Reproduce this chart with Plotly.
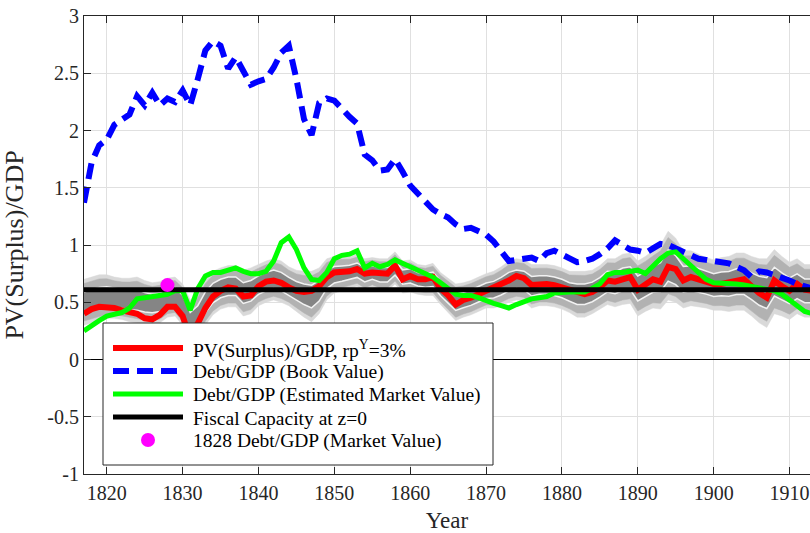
import plotly.graph_objects as go

years = list(range(1817, 1914))

book_debt = [1.37, 1.72, 1.87, 1.92, 2.05, 2.10, 2.14, 2.30, 2.22, 2.33,
             2.22, 2.28, 2.25, 2.35, 2.22, 2.45, 2.70, 2.78, 2.74, 2.54,
             2.64, 2.52, 2.40, 2.43, 2.45, 2.55, 2.68, 2.74, 2.45, 2.10,
             1.96, 2.24, 2.28, 2.26, 2.18, 2.12, 2.06, 1.79, 1.74, 1.65,
             1.66, 1.75, 1.64, 1.52, 1.45, 1.37, 1.31, 1.27, 1.24, 1.18,
             1.14, 1.15, 1.12, 1.09, 1.03, 0.95, 0.86, 0.87, 0.88, 0.89,
             0.86, 0.93, 0.95, 0.92, 0.89, 0.85, 0.86, 0.88, 0.92, 0.97,
             1.04, 1.00, 0.96, 0.95, 0.93, 0.97, 1.01, 1.00, 0.97, 0.93,
             0.90, 0.88, 0.87, 0.86, 0.85, 0.84, 0.81, 0.78, 0.72, 0.77,
             0.76, 0.74, 0.71, 0.69, 0.66, 0.64, 0.62]

pv_surplus = [0.40, 0.44, 0.46, 0.46, 0.45, 0.43, 0.41, 0.40, 0.36, 0.35,
              0.39, 0.46, 0.46, 0.38, 0.18, 0.32, 0.45, 0.55, 0.60, 0.63,
              0.62, 0.55, 0.56, 0.64, 0.68, 0.69, 0.67, 0.63, 0.60, 0.59,
              0.60, 0.64, 0.72, 0.76, 0.76, 0.77, 0.79, 0.75, 0.76, 0.76,
              0.75, 0.82, 0.70, 0.73, 0.70, 0.70, 0.72, 0.62, 0.56, 0.48,
              0.52, 0.54, 0.57, 0.60, 0.62, 0.65, 0.69, 0.73, 0.71, 0.65,
              0.66, 0.66, 0.65, 0.63, 0.60, 0.58, 0.57, 0.59, 0.63, 0.69,
              0.68, 0.70, 0.72, 0.61, 0.66, 0.70, 0.68, 0.81, 0.79, 0.69,
              0.72, 0.70, 0.68, 0.66, 0.66, 0.67, 0.68, 0.70, 0.64, 0.58,
              0.54, 0.69, 0.64, 0.60, 0.66, 0.61, 0.60]

market_debt = [0.25, 0.30, 0.34, 0.38, 0.40, 0.41, 0.45, 0.53, 0.54, 0.55,
               0.55, 0.57, 0.60, 0.60, 0.43, 0.62, 0.73, 0.76, 0.76, 0.78,
               0.80, 0.77, 0.75, 0.75, 0.77, 0.86, 1.02, 1.07, 0.96, 0.80,
               0.70, 0.69, 0.76, 0.88, 0.91, 0.92, 0.95, 0.80, 0.84, 0.81,
               0.83, 0.87, 0.84, 0.82, 0.78, 0.75, 0.72, 0.67, 0.62, 0.57,
               0.56, 0.56, 0.54, 0.51, 0.49, 0.47, 0.45, 0.48, 0.51, 0.53,
               0.54, 0.55, 0.58, 0.59, 0.59, 0.59, 0.59, 0.62, 0.66, 0.74,
               0.76, 0.76, 0.77, 0.78, 0.75, 0.82, 0.88, 0.93, 0.94, 0.88,
               0.82, 0.76, 0.70, 0.67, 0.67, 0.67, 0.66, 0.65, 0.64, 0.63,
               0.61, 0.60, 0.57, 0.52, 0.46, 0.42, 0.40]

band_mid = [0.50, 0.52, 0.54, 0.55, 0.54, 0.53, 0.52, 0.52, 0.50, 0.49,
            0.50, 0.54, 0.55, 0.48, 0.32, 0.38, 0.50, 0.58, 0.62, 0.64,
            0.64, 0.58, 0.60, 0.65, 0.68, 0.70, 0.68, 0.64, 0.60, 0.57,
            0.55, 0.60, 0.70, 0.74, 0.75, 0.76, 0.78, 0.74, 0.76, 0.74,
            0.74, 0.80, 0.72, 0.73, 0.70, 0.69, 0.70, 0.62, 0.56, 0.50,
            0.52, 0.54, 0.57, 0.60, 0.61, 0.64, 0.68, 0.70, 0.69, 0.64,
            0.65, 0.65, 0.64, 0.62, 0.59, 0.57, 0.57, 0.59, 0.63, 0.68,
            0.67, 0.70, 0.71, 0.62, 0.66, 0.70, 0.72, 0.82, 0.78, 0.70,
            0.71, 0.69, 0.67, 0.65, 0.66, 0.66, 0.68, 0.68, 0.64, 0.60,
            0.58, 0.68, 0.64, 0.60, 0.64, 0.60, 0.60]

band_w = [0.20, 0.20, 0.20, 0.19, 0.18, 0.18, 0.19, 0.20, 0.19, 0.18,
          0.18, 0.17, 0.17, 0.18, 0.20, 0.20, 0.20, 0.19, 0.18, 0.18,
          0.18, 0.20, 0.20, 0.18, 0.18, 0.18, 0.18, 0.17, 0.18, 0.20,
          0.22, 0.20, 0.18, 0.16, 0.15, 0.14, 0.14, 0.14, 0.13, 0.14,
          0.14, 0.14, 0.14, 0.14, 0.13, 0.13, 0.14, 0.14, 0.15, 0.16,
          0.15, 0.15, 0.15, 0.15, 0.16, 0.17, 0.18, 0.18, 0.18, 0.19,
          0.18, 0.18, 0.18, 0.18, 0.18, 0.20, 0.20, 0.19, 0.19, 0.20,
          0.21, 0.22, 0.22, 0.24, 0.24, 0.25, 0.28, 0.30, 0.28, 0.25,
          0.24, 0.23, 0.22, 0.22, 0.23, 0.24, 0.25, 0.25, 0.26, 0.28,
          0.30, 0.28, 0.26, 0.25, 0.24, 0.23, 0.23]

fiscal_capacity = 0.61
market_1828_year = [1828]
market_1828_value = [0.65]

x_ticks = [1820, 1830, 1840, 1850, 1860, 1870, 1880, 1890, 1900, 1910]
y_ticks = [-1, -0.5, 0, 0.5, 1, 1.5, 2, 2.5, 3]
y_tick_text = ["-1", "-0.5", "0", "0.5", "1", "1.5", "2", "2.5", "3"]

legend_labels = ["PV(Surplus)/GDP, rp<sup>Y</sup>=3%",
                 "Debt/GDP (Book Value)",
                 "Debt/GDP (Estimated Market Value)",
                 "Fiscal Capacity at z=0",
                 "1828 Debt/GDP (Market Value)"]

FONT = "Liberation Serif"
RED, BLUE, GREEN, BLACK, MAGENTA = "#ff0000", "#0000ff", "#00ff00", "#000000", "#ff00ff"
BLUE_DASH = "16px,8px"

# page geometry (the page's default body margin is removed by post_script)
W, H = 810, 533
ML, MT, MB = 84, 16, 59
PW, PH = W - ML, H - MT - MB


def px(xp):
    """page x pixel -> paper coordinate"""
    return (xp - ML) / PW


def py(yp):
    """page y pixel -> paper coordinate"""
    return (H - MB - yp) / PH


fig = go.Figure()

# confidence bands (outer -> inner)
band_levels = [(1.0, "#d9d9d9", "#d9d9d9", 0.5),
               (0.82, "#b2b2b2", "#b2b2b2", 0.5),
               (0.45, "#858585", "#f2f2f2", 1.5)]
for frac, fillc, linec, lw in band_levels:
    hi = [m + frac * w for m, w in zip(band_mid, band_w)]
    lo = [m - frac * w for m, w in zip(band_mid, band_w)]
    fig.add_trace(go.Scatter(
        x=years + years[::-1], y=hi + lo[::-1], fill="toself",
        fillcolor=fillc, mode="lines", line=dict(color=linec, width=lw),
        showlegend=False, hoverinfo="skip"))

fig.add_trace(go.Scatter(x=years, y=pv_surplus, mode="lines",
                         line=dict(color=RED, width=6),
                         name=legend_labels[0], showlegend=False))
fig.add_trace(go.Scatter(x=years, y=book_debt, mode="lines",
                         line=dict(color=BLUE, width=6, dash=BLUE_DASH),
                         name=legend_labels[1], showlegend=False))
fig.add_trace(go.Scatter(x=years, y=market_debt, mode="lines",
                         line=dict(color=GREEN, width=5),
                         name=legend_labels[2], showlegend=False))
fig.add_trace(go.Scatter(x=years, y=[fiscal_capacity] * len(years), mode="lines",
                         line=dict(color=BLACK, width=5),
                         name=legend_labels[3], showlegend=False))
fig.add_trace(go.Scatter(x=market_1828_year, y=market_1828_value, mode="markers",
                         marker=dict(color=MAGENTA, size=14),
                         name=legend_labels[4], showlegend=False))

# legend box drawn in paper coordinates
shapes = [dict(type="rect", xref="paper", yref="paper", layer="above",
               x0=px(103), x1=px(493), y0=py(465), y1=py(323),
               fillcolor="white", line=dict(color="#262626", width=1))]
annotations = []
row_y = [348, 371, 394, 417, 440]
samples = [(RED, 6, "solid"), (BLUE, 6, BLUE_DASH), (GREEN, 5, "solid"),
           (BLACK, 5, "solid")]
for i, (c, w, d) in enumerate(samples):
    shapes.append(dict(type="line", xref="paper", yref="paper", layer="above",
                       x0=px(113), x1=px(183), y0=py(row_y[i]), y1=py(row_y[i]),
                       line=dict(color=c, width=w, dash=d)))
shapes.append(dict(type="circle", xref="paper", yref="paper", layer="above",
                   x0=px(148 - 7), x1=px(148 + 7), y0=py(row_y[4] + 7), y1=py(row_y[4] - 7),
                   fillcolor=MAGENTA, line=dict(color=MAGENTA, width=0)))
for i, lab in enumerate(legend_labels):
    annotations.append(dict(text=lab, xref="paper", yref="paper",
                            x=px(191), y=py(row_y[i] + 1), xanchor="left", yanchor="middle",
                            showarrow=False, font=dict(family=FONT, size=19.5, color="#000000")))

fig.update_layout(
    width=W, height=H,
    margin=dict(l=ML, r=0, t=MT, b=MB, autoexpand=False),
    plot_bgcolor="white", paper_bgcolor="white",
    font=dict(family=FONT, color="#262626", size=20),
    showlegend=False,
    shapes=shapes, annotations=annotations,
    xaxis=dict(range=[1817, 1912.7], tickvals=x_ticks,
               ticktext=[str(t) for t in x_ticks],
               showgrid=True, gridcolor="#e0e0e0", gridwidth=1,
               ticks="inside", ticklen=7, tickcolor="#262626",
               showline=True, linecolor="#262626", linewidth=1,
               mirror="ticks", zeroline=False, automargin=False,
               ticklabelstandoff=1, ticklabeloverflow="allow",
               title=dict(text="Year", font=dict(size=23, color="#262626"), standoff=9),
               tickfont=dict(size=20)),
    yaxis=dict(range=[-1, 3], tickvals=y_ticks, ticktext=y_tick_text,
               showgrid=True, gridcolor="#e0e0e0", gridwidth=1,
               ticks="inside", ticklen=7, tickcolor="#262626",
               showline=True, linecolor="#262626", linewidth=1,
               zeroline=True, zerolinecolor="#000000", zerolinewidth=1,
               automargin=False, ticklabeloverflow="allow",
               title=dict(text="PV(Surplus)/GDP", font=dict(size=26, color="#262626"), standoff=24),
               tickfont=dict(size=20)),
)

fig.write_html(
    "out.html",
    config={"displayModeBar": False},
    post_script="document.body.style.margin='0px';document.body.style.overflow='hidden';",
)
